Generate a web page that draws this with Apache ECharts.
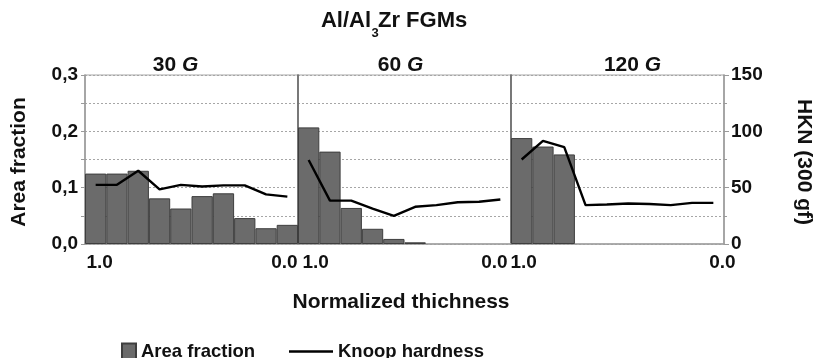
<!DOCTYPE html>
<html>
<head>
<meta charset="utf-8">
<script src="https://cdn.jsdelivr.net/npm/echarts@6/dist/echarts.min.js"></script>
<style>
  html, body { margin: 0; padding: 0; background: #fff; }
  #chart { width: 814px; height: 358px; }
</style>
</head>
<body>
<div id="chart"></div>
<script>
// Ten thickness bins per sample, from the surface (1.0) to the back (0.0)
const bins = ['b1', 'b2', 'b3', 'b4', 'b5', 'b6', 'b7', 'b8', 'b9', 'b10'];
const edgeLabels = ['1.0', '0.0'];
const panelNames = ['30', '60', '120'];

// Area fraction of Al3Zr per bin
const area30 = [0.125, 0.125, 0.130, 0.081, 0.063, 0.085, 0.090, 0.046, 0.028, 0.034];
const area60 = [0.207, 0.164, 0.064, 0.027, 0.009, 0.003, null, null, null, null];
const area120 = [0.188, 0.173, 0.159, null, null, null, null, null, null, null];

// Knoop hardness, HKN (300 gf)
const hardness30 = [52.5, 52.5, 65, 48.5, 52.5, 51, 52, 52, 44, 42];
const hardness60 = [74.5, 38.5, 38.5, 31.5, 25, 33, 34.5, 37, 37.5, 39.5];
const hardness120 = [75, 91.5, 86, 34.5, 35, 36, 35.5, 34.5, 36.5, 36.5];

const areaSets = [area30, area60, area120];
const hardnessSets = [hardness30, hardness60, hardness120];

const FONT = '"Liberation Sans", Arial, sans-serif';
const PLOT_LEFT = 85, PLOT_TOP = 75, PLOT_H = 169, PANEL_W = 213;
// horizontal nudge of the first / last edge label in each panel (px)
const edgeNudge = [[4, -3], [7, -6], [2, 9]];

function padFor(dx) {
  return dx >= 0 ? [0, 0, 0, 2 * dx] : [0, -2 * dx, 0, 0];
}

const grids = [], xAxes = [], yAxes = [], series = [];

for (let i = 0; i < 3; i++) {
  const labelBase = { color: '#111', fontFamily: FONT, fontWeight: 'bold', fontSize: 19 };
  grids.push({
    left: PLOT_LEFT + i * PANEL_W, top: PLOT_TOP, width: PANEL_W, height: PLOT_H,
    show: true, borderColor: '#a8a8a8', borderWidth: 1.2, backgroundColor: 'transparent'
  });
  xAxes.push({
    type: 'category', gridIndex: i, data: bins,
    axisLine: { show: true, lineStyle: { color: '#a0a0a0', width: 1.5 } },
    axisTick: { show: false },
    axisLabel: {
      interval: 0, margin: 9,
      color: '#111', fontFamily: FONT, fontWeight: 'bold', fontSize: 19,
      formatter: (v, idx) => idx === 0 ? '{f|' + edgeLabels[0] + '}'
        : (idx === bins.length - 1 ? '{l|' + edgeLabels[1] + '}' : ''),
      rich: {
        f: Object.assign({ padding: padFor(edgeNudge[i][0]) }, labelBase),
        l: Object.assign({ padding: padFor(edgeNudge[i][1]) }, labelBase)
      }
    },
    splitLine: { show: false }
  });
  // left: area fraction
  yAxes.push({
    type: 'value', gridIndex: i, min: 0, max: 0.3, interval: 0.05, position: 'left',
    axisLine: { show: true, lineStyle: { color: i === 0 ? '#9a9a9a' : '#6a6a6a', width: i === 0 ? 1.5 : 1.6 } },
    axisTick: { show: i === 0, length: 4, lineStyle: { color: '#9a9a9a' } },
    axisLabel: {
      show: i === 0, margin: 7,
      color: '#111', fontFamily: FONT, fontWeight: 'bold', fontSize: 19,
      formatter: v => (Math.round(v * 100) % 10 === 0) ? v.toFixed(1).replace('.', ',') : ''
    },
    splitLine: { show: true, lineStyle: { color: '#a6a6a6', type: [2, 2], width: 1 } }
  });
  // right: Knoop hardness
  yAxes.push({
    type: 'value', gridIndex: i, min: 0, max: 150, interval: 50, position: 'right',
    show: i === 2,
    axisLine: { show: true, lineStyle: { color: '#9a9a9a', width: 1.5 } },
    axisTick: { show: true, length: 5, lineStyle: { color: '#9a9a9a' } },
    minorTick: { show: true, splitNumber: 2, length: 3, lineStyle: { color: '#9a9a9a' } },
    axisLabel: {
      margin: 7, color: '#111', fontFamily: FONT, fontWeight: 'bold', fontSize: 19
    },
    splitLine: { show: false }
  });
  series.push({
    name: 'Area fraction', type: 'bar', xAxisIndex: i, yAxisIndex: i * 2,
    data: areaSets[i], barCategoryGap: '0%',
    itemStyle: { color: '#6b6b6b', borderColor: '#3e3e3e', borderWidth: 1 },
    emphasis: { disabled: true }
  });
  series.push({
    name: 'Knoop hardness', type: 'line', xAxisIndex: i, yAxisIndex: i * 2 + 1,
    data: hardnessSets[i], symbol: 'none', showSymbol: false,
    lineStyle: { color: '#000', width: 2.4 }, itemStyle: { color: '#000' },
    z: 5
  });
}

const panelCenters = [175.5, 400.5, 632.5];
const boldText = { fontFamily: FONT, fontWeight: 'bold', fill: '#111' };

const graphics = [
  // main heading: Al/Al3Zr FGMs
  { type: 'text', x: 371, y: 21, style: Object.assign({ text: 'Al/Al', fontSize: 22, align: 'right', verticalAlign: 'middle' }, boldText) },
  { type: 'text', x: 371.5, y: 33, style: Object.assign({ text: '3', fontSize: 13, align: 'left', verticalAlign: 'middle' }, boldText) },
  { type: 'text', x: 378, y: 21, style: Object.assign({ text: 'Zr FGMs', fontSize: 22, align: 'left', verticalAlign: 'middle' }, boldText) },
  // axis titles
  { type: 'text', x: 19, y: 162, rotation: Math.PI / 2,
    style: Object.assign({ text: 'Area fraction', fontSize: 21, align: 'center', verticalAlign: 'middle' }, boldText) },
  { type: 'text', x: 804, y: 162, rotation: -Math.PI / 2,
    style: Object.assign({ text: 'HKN (300 gf)', fontSize: 21, align: 'center', verticalAlign: 'middle' }, boldText) },
  { type: 'text', x: 401, y: 302,
    style: Object.assign({ text: 'Normalized thichness', fontSize: 21, align: 'center', verticalAlign: 'middle' }, boldText) }
];

panelNames.forEach((n, i) => {
  graphics.push({
    type: 'text', x: panelCenters[i], y: 65,
    style: {
      text: '{n|' + n + ' }{g|G}', align: 'center', verticalAlign: 'middle',
      rich: {
        n: { fontFamily: FONT, fontWeight: 'bold', fontSize: 21, fill: '#111' },
        g: { fontFamily: FONT, fontWeight: 'bold', fontStyle: 'italic', fontSize: 21, fill: '#111' }
      }
    }
  });
});

const legendText = { color: '#111', fontFamily: FONT, fontWeight: 'bold', fontSize: 18.5 };

const chart = echarts.init(document.getElementById('chart'), null, { renderer: 'canvas' });
chart.setOption({
  animation: false,
  backgroundColor: '#fff',
  grid: grids,
  xAxis: xAxes,
  yAxis: yAxes,
  series: series,
  legend: [
    { data: [{ name: 'Area fraction', icon: 'rect' }], left: 121, top: 342, padding: 0,
      itemWidth: 14, itemHeight: 16, itemGap: 0, textStyle: legendText, selectedMode: false },
    { data: [{ name: 'Knoop hardness', icon: 'rect', itemStyle: { color: '#000' } }], left: 289, top: 342, padding: 0,
      itemWidth: 44, itemHeight: 2.5, itemGap: 0, textStyle: legendText, selectedMode: false }
  ],
  graphic: graphics
});
</script>
</body>
</html>
